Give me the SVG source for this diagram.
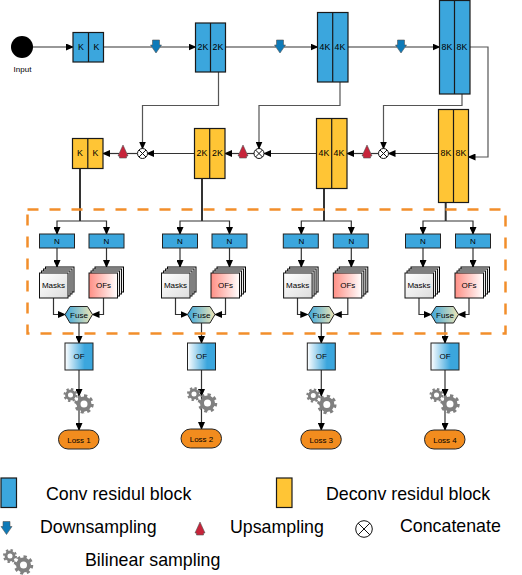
<svg xmlns="http://www.w3.org/2000/svg" xmlns:xlink="http://www.w3.org/1999/xlink" width="522" height="575" viewBox="0 0 522 575">
<style>
text{font-family:"Liberation Sans",Arial,sans-serif;fill:#000;text-anchor:middle}
.s{font-size:8px}.b{font-size:8.800px}.l{font-size:17.800px;text-anchor:start}
.blk{stroke:#1a1a1a;stroke-width:1.200}
.c{fill:#3BA6DD}.d{fill:#FFC535}
.n{fill:#3BA6DD;stroke:#222;stroke-width:1}
.w{fill:none;stroke:#333;stroke-width:1.200;marker-end:url(#a)}
.p{fill:none;stroke:#333;stroke-width:1.200}
.t{fill:none;stroke:#333;stroke-width:2}
.dn{fill:#0E7AB8;stroke:#555;stroke-width:.6}
.up{fill:#C7243A;stroke:#555;stroke-width:.6}
.x{fill:#fff;stroke:#111;stroke-width:1}
.st{stroke:#111;stroke-width:1;fill:#eee}
.loss{fill:#F28C1E;stroke:#222;stroke-width:1}
</style>
<defs>
<marker id="a" markerWidth="8" markerHeight="7" refX="7" refY="3.5" orient="auto" markerUnits="userSpaceOnUse"><path d="M0 0L8 3.5L0 7z" fill="#000"/></marker>
<linearGradient id="gm" x1="0" y1="0" x2="1" y2="1"><stop offset="0" stop-color="#fff"/><stop offset="1" stop-color="#ddd"/></linearGradient>
<linearGradient id="go" x1="0" y1="0" x2="1" y2="0"><stop offset="0" stop-color="#FF8F85"/><stop offset="1" stop-color="#fff"/></linearGradient>
<linearGradient id="gf" x1="0" y1="0" x2="1" y2="0"><stop offset="0" stop-color="#3BA6DD"/><stop offset="1" stop-color="#F0E6B4"/></linearGradient>
<linearGradient id="gof" x1="0" y1="0" x2="1" y2="0"><stop offset="0" stop-color="#fff"/><stop offset=".7" stop-color="#3BA6DD"/></linearGradient>
<g id="gear"><circle r="4.400" fill="none" stroke="#808080" stroke-width="3.200"/><circle r="6.600" fill="none" stroke="#808080" stroke-width="2.400" pathLength="16" stroke-dasharray="1 1"/></g>
<g id="gears"><use xlink:href="#gear" href="#gear" transform="translate(-8.500,-9) scale(.9)"/><use xlink:href="#gear" href="#gear" transform="translate(5,0) scale(1.250)"/></g>
<g id="stack"><rect class="st" x="6" y="-6" width="28.500" height="25" style="stroke:#000"/><rect class="st" x="4" y="-4" width="28.500" height="25"/><rect class="st" x="2" y="-2" width="28.500" height="25"/></g>
<path id="dnp" d="M-3.500-6.500H3.500V-1.500H5.500L0 6.500L-5.500-1.500H-3.500z"/>
<path id="upp" d="M0-7L5 4H3.500V6H-3.500V4H-5z"/>
<g id="xp"><circle class="x" r="5"/><path d="M-3.500-3.500L3.500 3.500M-3.500 3.500L3.500-3.500" stroke="#111" stroke-width="1"/></g>
</defs>

<g id="connectors">
<path class="w" d="M33 47H73"/>
<path class="p" d="M103.500 47H152"/><path class="w" d="M160 47H195.500"/>
<path class="p" d="M225.500 47H276"/><path class="w" d="M284 47H317.500"/>
<path class="p" d="M348 47H397"/><path class="w" d="M405 47H439.500"/>
<path class="w" style="stroke:#555" d="M470 47H488V157H468.500"/>
<path class="w" style="stroke:#555" d="M218.500 72V105.500H142.500V148.500"/>
<path class="w" style="stroke:#555" d="M340 82V105.500H259V148.500"/>
<path class="w" style="stroke:#555" d="M462 94V105.500H383.500V148.500"/>
<path class="w" d="M438.500 153.500H388.500"/><path class="p" d="M378.500 153.500H371"/><path class="w" d="M363 153.500H347"/>
<path class="w" d="M316.500 153.500H264"/><path class="p" d="M254 153.500H247"/><path class="w" d="M239 153.500H225"/>
<path class="w" d="M194.500 153.500H147"/><path class="p" d="M137 153.500H127"/><path class="w" d="M119 153.500H103"/>
<g id="b1c">
<path class="t" d="M80 168V221"/><path class="w" d="M80 221H57V234"/><path class="w" d="M80 221H106.500V234"/>
<path class="w" d="M57 248V267"/><path class="w" d="M106.500 248V267"/>
<path class="w" d="M53.500 298V314.500H65"/><path class="w" d="M103.500 298V314.500H92.500"/>
<path class="w" d="M79 323V343"/><path class="w" d="M79 370V396"/><path class="w" d="M79 396V430"/>
</g>
<g id="b2c" transform="translate(122.500,0)">
<path class="t" d="M79.500 178V221"/><path class="w" d="M79.500 221H57.500V234"/><path class="w" d="M79.500 221H107V234"/>
<path class="w" d="M57.500 248V267"/><path class="w" d="M107 248V267"/>
<path class="w" d="M53 298V314.500H65"/><path class="w" d="M103 298V314.500H92.500"/>
<path class="w" d="M79 323V343"/><path class="w" d="M79 370V396"/><path class="w" d="M79 396V429"/>
</g>
<g id="b3c" transform="translate(242.300,0)">
<path class="t" d="M81.700 188V221"/><path class="w" d="M81.700 221H59V234"/><path class="w" d="M81.700 221H109V234"/>
<path class="w" d="M59 248V267"/><path class="w" d="M109 248V267"/>
<path class="w" d="M55.200 298V314.500H65"/><path class="w" d="M105.500 298V314.500H92.500"/>
<path class="w" d="M79 323V343"/><path class="w" d="M79 370V396"/><path class="w" d="M79 396V430"/>
</g>
<g id="b4c" transform="translate(366,0)">
<path class="t" d="M79.700 202V221"/><path class="w" d="M79.700 221H57V234"/><path class="w" d="M79.700 221H107V234"/>
<path class="w" d="M57 248V267"/><path class="w" d="M107 248V267"/>
<path class="w" d="M53 298V314.500H65"/><path class="w" d="M103 298V314.500H92.500"/>
<path class="w" d="M79 323V343"/><path class="w" d="M79 370V396"/><path class="w" d="M79 396V430"/>
</g>
</g>

<rect id="dashbox" x="27.500" y="209.500" width="478" height="124" fill="none" stroke="#F28E2B" stroke-width="2.500" stroke-dasharray="11 11"/>

<g id="input"><circle cx="22" cy="47" r="11" fill="#000"/><text class="s" x="22.500" y="72">Input</text></g>

<g id="c1"><rect class="c blk" x="73" y="32.500" width="30.500" height="29.500"/><path class="blk" d="M88.500 32.500V62"/><text class="b" x="81" y="50">K</text><text class="b" x="96.500" y="50">K</text></g>
<g id="c2"><rect class="c blk" x="195.500" y="23" width="30" height="49"/><path class="blk" d="M210.500 23V72"/><text class="b" x="203" y="50">2K</text><text class="b" x="218" y="50">2K</text></g>
<g id="c3"><rect class="c blk" x="317.500" y="12.500" width="30.500" height="69.500"/><path class="blk" d="M332.700 12.500V82"/><text class="b" x="325" y="50">4K</text><text class="b" x="340" y="50">4K</text></g>
<g id="c4"><rect class="c blk" x="439.500" y=".5" width="30.500" height="93.500"/><path class="blk" d="M454.500 .5V94"/><text class="b" x="447" y="50">8K</text><text class="b" x="462" y="50">8K</text></g>

<g id="d1"><rect class="d blk" x="72.500" y="138.500" width="30.500" height="30"/><path class="blk" d="M87.800 138.500V168.500"/><text class="b" x="80" y="156">K</text><text class="b" x="95.500" y="156">K</text></g>
<g id="d2"><rect class="d blk" x="194.500" y="128.500" width="30.500" height="50"/><path class="blk" d="M209.700 128.500V178.500"/><text class="b" x="202" y="156">2K</text><text class="b" x="217.500" y="156">2K</text></g>
<g id="d3"><rect class="d blk" x="316.500" y="118.500" width="30.500" height="70"/><path class="blk" d="M331.700 118.500V188.500"/><text class="b" x="324" y="156">4K</text><text class="b" x="339" y="156">4K</text></g>
<g id="d4"><rect class="d blk" x="438.500" y="109.500" width="30" height="93"/><path class="blk" d="M453.500 109.500V202.500"/><text class="b" x="446" y="156">8K</text><text class="b" x="461" y="156">8K</text></g>

<g id="down1"><use xlink:href="#dnp" href="#dnp" class="dn" x="156" y="46.500"/></g>
<g id="down2"><use xlink:href="#dnp" href="#dnp" class="dn" x="280" y="46.500"/></g>
<g id="down3"><use xlink:href="#dnp" href="#dnp" class="dn" x="401" y="46.500"/></g>
<g id="up1"><use xlink:href="#upp" href="#upp" class="up" x="123" y="152"/></g>
<g id="up2"><use xlink:href="#upp" href="#upp" class="up" x="243" y="152"/></g>
<g id="up3"><use xlink:href="#upp" href="#upp" class="up" x="367" y="152"/></g>
<g id="cat1"><use xlink:href="#xp" href="#xp" x="142.500" y="153.500"/></g>
<g id="cat2"><use xlink:href="#xp" href="#xp" x="259" y="153.500"/></g>
<g id="cat3"><use xlink:href="#xp" href="#xp" x="383.500" y="153.500"/></g>

<g id="branch1">
<rect class="n" x="39.500" y="234" width="35" height="14"/><text class="s" x="57" y="244">N</text>
<rect class="n" x="89" y="234" width="35" height="14"/><text class="s" x="106.500" y="244">N</text>
<use xlink:href="#stack" href="#stack" x="39.500" y="273"/><rect class="st" x="39.500" y="273" width="28.500" height="25" style="fill:url(#gm)"/><text class="s" x="53.500" y="288">Masks</text>
<use xlink:href="#stack" href="#stack" x="89" y="273"/><rect class="st" x="89" y="273" width="28.500" height="25" style="fill:url(#go)"/><text class="s" x="103.500" y="288">OFs</text>
<path d="M65 314.500L70 306.500H87.500L92.500 314.500L87.500 323H70z" fill="url(#gf)" stroke="#222"/><text class="s" x="79" y="317.500">Fuse</text>
<rect x="65" y="343" width="28" height="27" fill="url(#gof)" stroke="#222"/><text class="s" x="79" y="359">OF</text>
<use xlink:href="#gears" href="#gears" x="79" y="404"/>
<rect class="loss" x="58.500" y="430" width="40.500" height="19" rx="9.500"/><text class="s" x="79" y="442.500">Loss 1</text>
</g>
<g id="branch2" transform="translate(122.500,0)">
<rect class="n" x="40" y="234" width="35" height="14"/><text class="s" x="57.500" y="244">N</text>
<rect class="n" x="89.500" y="234" width="35" height="14"/><text class="s" x="107" y="244">N</text>
<use xlink:href="#stack" href="#stack" x="39" y="273"/><rect class="st" x="39" y="273" width="28.500" height="25" style="fill:url(#gm)"/><text class="s" x="53" y="288">Masks</text>
<use xlink:href="#stack" href="#stack" x="88.500" y="273"/><rect class="st" x="88.500" y="273" width="28.500" height="25" style="fill:url(#go)"/><text class="s" x="103" y="288">OFs</text>
<path d="M65 314.500L70 306.500H87.500L92.500 314.500L87.500 323H70z" fill="url(#gf)" stroke="#222"/><text class="s" x="79" y="317.500">Fuse</text>
<rect x="65" y="343" width="28" height="27" fill="url(#gof)" stroke="#222"/><text class="s" x="79" y="359">OF</text>
<use xlink:href="#gears" href="#gears" x="80" y="403"/>
<rect class="loss" x="58.500" y="429" width="40.500" height="19" rx="9.500"/><text class="s" x="79" y="441.500">Loss 2</text>
</g>
<g id="branch3" transform="translate(242.300,0)">
<rect class="n" x="41" y="234" width="35" height="14"/><text class="s" x="59" y="244">N</text>
<rect class="n" x="91" y="234" width="35" height="14"/><text class="s" x="109" y="244">N</text>
<use xlink:href="#stack" href="#stack" x="41.300" y="273"/><rect class="st" x="41.300" y="273" width="28.500" height="25" style="fill:url(#gm)"/><text class="s" x="55.300" y="288">Masks</text>
<use xlink:href="#stack" href="#stack" x="91" y="273"/><rect class="st" x="91" y="273" width="28.500" height="25" style="fill:url(#go)"/><text class="s" x="105.500" y="288">OFs</text>
<path d="M66 314.500L71 306.500H87L92 314.500L87 323H71z" fill="url(#gf)" stroke="#222"/><text class="s" x="79" y="317.500">Fuse</text>
<rect x="65" y="343" width="28" height="27" fill="url(#gof)" stroke="#222"/><text class="s" x="79" y="359">OF</text>
<use xlink:href="#gears" href="#gears" x="79.500" y="404.500"/>
<rect class="loss" x="58.500" y="430" width="40.500" height="19" rx="9.500"/><text class="s" x="79" y="442.500">Loss 3</text>
</g>
<g id="branch4" transform="translate(366,0)">
<rect class="n" x="39.500" y="234" width="35" height="14"/><text class="s" x="57" y="244">N</text>
<rect class="n" x="89.500" y="234" width="35" height="14"/><text class="s" x="107" y="244">N</text>
<use xlink:href="#stack" href="#stack" x="39" y="273"/><rect class="st" x="39" y="273" width="28.500" height="25" style="fill:url(#gm)"/><text class="s" x="53" y="288">Masks</text>
<use xlink:href="#stack" href="#stack" x="89" y="273"/><rect class="st" x="89" y="273" width="28.500" height="25" style="fill:url(#go)"/><text class="s" x="103" y="288">OFs</text>
<path d="M65 314.500L70 306.500H87.500L92.500 314.500L87.500 323H70z" fill="url(#gf)" stroke="#222"/><text class="s" x="79" y="317.500">Fuse</text>
<rect x="65" y="343" width="28" height="27" fill="url(#gof)" stroke="#222"/><text class="s" x="79" y="359">OF</text>
<use xlink:href="#gears" href="#gears" x="79" y="404"/>
<rect class="loss" x="58.500" y="430" width="40.500" height="19" rx="9.500"/><text class="s" x="79" y="442.500">Loss 4</text>
</g>

<g id="legend">
<rect class="c blk" x="1" y="478" width="15.500" height="29.500"/><text class="l" x="46" y="500">Conv residul block</text>
<rect class="d blk" x="276.500" y="478" width="15.500" height="29.500"/><text class="l" x="326" y="500">Deconv residul block</text>
<use xlink:href="#dnp" href="#dnp" class="dn" x="6.500" y="528"/><text class="l" x="40" y="533">Downsampling</text>
<use xlink:href="#upp" href="#upp" class="up" x="200" y="529"/><text class="l" x="230" y="533">Upsampling</text>
<circle cx="364" cy="529" r="8.300" fill="#fff" stroke="#111" stroke-width="1"/><path d="M358.100 523.100L369.900 534.900M358.100 534.900L369.900 523.100" stroke="#111" stroke-width="1"/><text class="l" x="400" y="532">Concatenate</text>
<use xlink:href="#gears" href="#gears" x="18.500" y="565"/><text class="l" x="85" y="566">Bilinear sampling</text>
</g>
</svg>
